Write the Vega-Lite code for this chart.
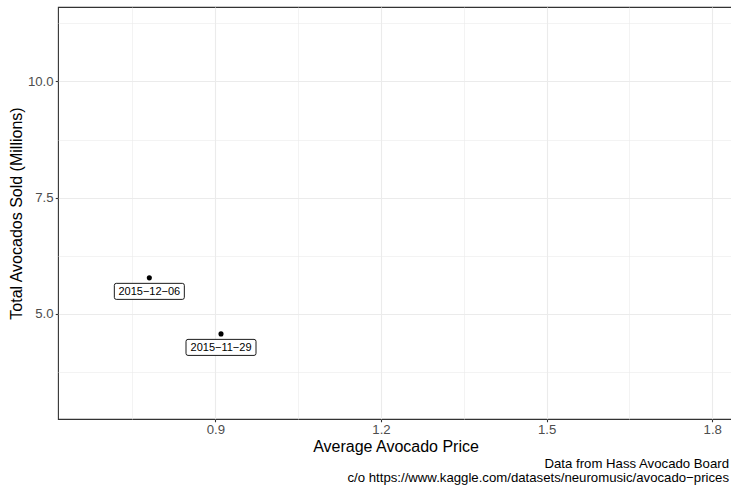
{
  "$schema": "https://vega.github.io/schema/vega-lite/v6.json",
  "autosize": {"type": "none"},
  "width": 675,
  "height": 412,
  "padding": {"left": 58, "top": 7, "right": 0, "bottom": 67},
  "background": "white",
  "config": {
    "font": "Liberation Sans",
    "view": {"stroke": "#333333", "strokeWidth": 1.1, "fill": "white"},
    "axis": {
      "domain": false,
      "gridColor": "#ebebeb",
      "gridWidth": 1.1,
      "tickColor": "#333333",
      "tickSize": 2.75,
      "tickWidth": 1.1,
      "labelColor": "#4d4d4d",
      "labelFontSize": 13.2,
      "labelFont": "Liberation Sans",
      "titleFont": "Liberation Sans",
      "titleFontSize": 16,
      "titleFontWeight": "normal",
      "titleColor": "black",
      "labelPadding": 2.2
    }
  },
  "title": {
    "text": ["Data from Hass Avocado Board", "c/o https://www.kaggle.com/datasets/neuromusic/avocado−prices"],
    "orient": "bottom",
    "anchor": "end",
    "frame": "group",
    "align": "right",
    "dx": -4,
    "fontSize": 13.2,
    "fontWeight": "normal",
    "font": "Liberation Sans",
    "color": "black",
    "lineHeight": 14,
    "offset": 4
  },
  "data": {
    "values": [
      {"date": "2015−12−06", "price": 0.7805, "volume": 5.775},
      {"date": "2015−11−29", "price": 0.9103, "volume": 4.57}
    ]
  },
  "layer": [
    {
      "mark": {"type": "point", "opacity": 0},
      "encoding": {
        "x": {"field": "price", "type": "quantitative", "scale": {"domain": [0.6151, 1.8375], "nice": false, "zero": false}, "axis": {"orient": "bottom", "values": [0.75, 1.05, 1.35, 1.65], "grid": true, "gridWidth": 0.6, "ticks": false, "labels": false, "domain": false, "title": null}},
        "y": {"field": "volume", "type": "quantitative", "scale": {"domain": [2.74, 11.6], "nice": false, "zero": false}, "axis": {"orient": "left", "values": [3.75, 6.25, 8.75, 11.25], "grid": true, "gridWidth": 0.6, "ticks": false, "labels": false, "domain": false, "title": null}}
      }
    },
    {
      "mark": {"type": "point", "filled": true, "color": "black", "size": 26, "opacity": 1},
      "encoding": {
        "x": {"field": "price", "type": "quantitative", "scale": {"domain": [0.6151, 1.8375], "nice": false, "zero": false}, "axis": {"orient": "bottom", "values": [0.9, 1.2, 1.5, 1.8], "format": ".1f", "grid": true, "title": "Average Avocado Price", "titlePadding": 2}},
        "y": {"field": "volume", "type": "quantitative", "scale": {"domain": [2.74, 11.6], "nice": false, "zero": false}, "axis": {"orient": "left", "values": [5, 7.5, 10], "format": ".1f", "grid": true, "title": "Total Avocados Sold (Millions)", "titlePadding": 3}}
      }
    },
    {
      "mark": {
        "type": "point",
        "shape": "M-0.943,-0.229 L0.943,-0.229 Q1,-0.229 1,-0.171 L1,0.171 Q1,0.229 0.943,0.229 L-0.943,0.229 Q-1,0.229 -1,0.171 L-1,-0.171 Q-1,-0.229 -0.943,-0.229 Z",
        "size": 4900,
        "filled": true,
        "fill": "white",
        "stroke": "black",
        "strokeWidth": 0.9,
        "opacity": 1,
        "fillOpacity": 1,
        "yOffset": 13.5
      },
      "encoding": {
        "x": {"field": "price", "type": "quantitative", "scale": {"domain": [0.6151, 1.8375], "nice": false, "zero": false}, "axis": null},
        "y": {"field": "volume", "type": "quantitative", "scale": {"domain": [2.74, 11.6], "nice": false, "zero": false}, "axis": null}
      }
    },
    {
      "mark": {"type": "text", "fontSize": 11, "color": "black", "baseline": "middle", "align": "center", "yOffset": 14, "font": "Liberation Sans"},
      "encoding": {
        "x": {"field": "price", "type": "quantitative", "scale": {"domain": [0.6151, 1.8375], "nice": false, "zero": false}, "axis": null},
        "y": {"field": "volume", "type": "quantitative", "scale": {"domain": [2.74, 11.6], "nice": false, "zero": false}, "axis": null},
        "text": {"field": "date", "type": "nominal"}
      }
    }
  ],
  "resolve": {"axis": {"x": "independent", "y": "independent"}}
}
